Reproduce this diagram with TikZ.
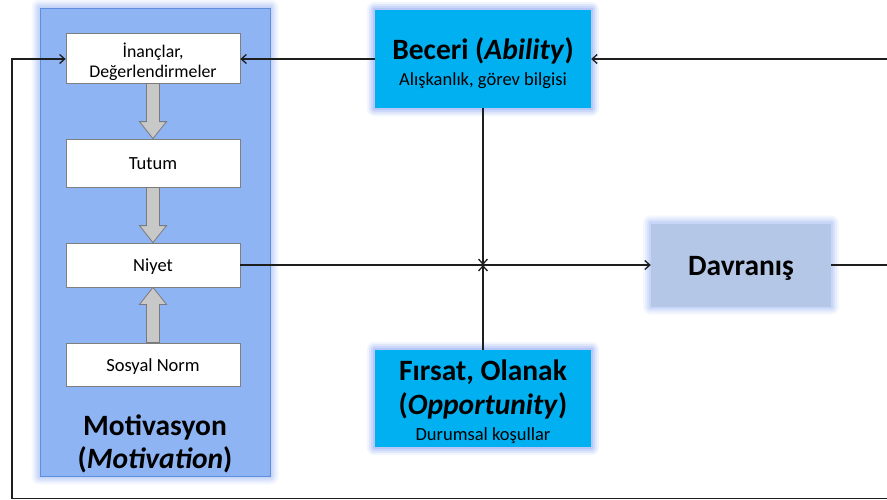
\documentclass[tikz,border=0pt]{standalone}
\usepackage{fontspec}
\setmainfont{Carlito}
\usetikzlibrary{arrows.meta,backgrounds,calc}

\definecolor{panelfill}{HTML}{8EB4F3}
\definecolor{paneledge}{HTML}{5E8FDB}
\definecolor{panelglow}{HTML}{A8C0F4}
\definecolor{skill}{HTML}{00B0F0}
\definecolor{skillglow}{HTML}{8FA9F2}
\definecolor{behav}{HTML}{B4C7E7}
\definecolor{boxedge}{HTML}{7F7F7F}
\definecolor{shaft}{HTML}{C8C8C8}
\definecolor{shaftedge}{HTML}{7A7A7A}
\definecolor{wire}{HTML}{1E1E1E}

\tikzset{
  panel/.style={fill=panelfill, draw=paneledge, line width=1pt,
    minimum width=230pt, minimum height=468pt, inner sep=0pt},
  stage/.style={draw=boxedge, line width=0.8pt, fill=white, minimum width=174pt,
    inner sep=0pt, font=\fontsize{18.5}{21}\selectfont},
  stageone/.style={stage, text height=13pt, text depth=0pt},
  factor/.style={fill=skill, minimum width=216pt, minimum height=98pt, inner sep=0pt},
  behave/.style={fill=behav, minimum width=180pt, minimum height=83pt, inner sep=0pt,
    font=\fontsize{29.5}{32}\selectfont\bfseries, text height=21pt, text depth=0pt},
  title/.style={font=\fontsize{29.5}{32}\selectfont\bfseries, anchor=base, inner sep=0pt},
  subtitle/.style={font=\fontsize{18.5}{21}\selectfont, anchor=base, inner sep=0pt},
  wire/.style={draw=wire, line width=1.1pt},
  tip/.style={wire, -{Straight Barb[length=5pt,width=9pt,line width=1.3pt]}},
  fat/.style={fill=shaft, draw=shaftedge, line width=0.8pt, line join=miter},
}

% soft halo behind a box: node name, colour
\newcommand\glowbox[2]{%
  \foreach \gr/\go in {8/0.12,6/0.18,4/0.25,2/0.35}{%
    \fill[#2, opacity=\go, rounded corners=\gr pt]
      ($(#1.south west)+(-\gr pt,-\gr pt)$) rectangle ($(#1.north east)+(\gr pt,\gr pt)$);
  }}

% thick grey block arrows between stacked boxes
\newcommand\fatdown[2]{%
  \draw[fat] let \p1=(#1.south), \p2=(#2.north) in
    (\x1-6.5pt,\y1) -- (\x1-6.5pt,\y2+17pt) -- (\x1-13.5pt,\y2+17pt) -- (\x1,\y2)
    -- (\x1+13.5pt,\y2+17pt) -- (\x1+6.5pt,\y2+17pt) -- (\x1+6.5pt,\y1) -- cycle;}
\newcommand\fatup[2]{%
  \draw[fat] let \p1=(#1.north), \p2=(#2.south) in
    (\x1-6.5pt,\y1) -- (\x1-6.5pt,\y2-17pt) -- (\x1-13.5pt,\y2-17pt) -- (\x1,\y2)
    -- (\x1+13.5pt,\y2-17pt) -- (\x1+6.5pt,\y2-17pt) -- (\x1+6.5pt,\y1) -- cycle;}

\begin{document}
\begin{tikzpicture}[x=1pt, y=-1pt]
\useasboundingbox (0,0) rectangle (887,499);

% motivation column
\node[panel] (panel) at (155,242) {};
\node[stage, minimum height=50pt] (beliefs) at (153,58) {};
\node[subtitle, font=\fontsize{17.8}{20}\selectfont] (beliefsA) at (153,57.5) {İnançlar,};
\node[subtitle, font=\fontsize{17.8}{20}\selectfont] (beliefsB) at (153,77) {Değerlendirmeler};
\node[stageone, minimum height=48pt] (attitude) at (153,163) {Tutum};
\node[stageone, minimum height=44pt] (intention) at (153,265) {Niyet};
\node[stageone, minimum height=43pt] (norm) at (153,364.5) {Sosyal Norm};
\node[title] (motivA) at (155,435) {Motivasyon};
\node[title] (motivB) at (155,468) {(\textit{Motivation})};

\fatdown{beliefs}{attitude}
\fatdown{attitude}{intention}
\fatup{norm}{intention}

% ability and opportunity
\node[factor] (ability) at (483,59) {};
\node[title] (abilityA) at (483,59) {Beceri (\textit{Ability})};
\node[subtitle] (abilityB) at (483,85) {Alışkanlık, görev bilgisi};

\node[factor, minimum height=97pt] (opp) at (483,398.5) {};
\node[title] (oppA) at (483,380) {Fırsat, Olanak};
\node[title] (oppB) at (483,414) {(\textit{Opportunity})};
\node[subtitle] (oppC) at (483,440) {Durumsal koşullar};

% behaviour
\node[behave] (behaviour) at (741,265) {Davranış};

% halos
\begin{scope}[on background layer]
  \glowbox{panel}{panelglow}
  \glowbox{ability}{skillglow}
  \glowbox{opp}{skillglow}
  \glowbox{behaviour}{panelglow}
\end{scope}

% connectors
\coordinate (meet) at (483,265);
\coordinate (edgeTop) at (900,59);
\coordinate (edgeMid) at (900,265);
\coordinate (edgeLow) at (900,498.5);
\coordinate (leftLow) at (12,498.5);
\coordinate (leftTop) at (12,59);

\draw[tip] (ability.west) -- (beliefs.east |- ability.west);
\draw[tip] (edgeTop) -- (ability.east);
\draw[tip] (intention.east) -- (behaviour.west);
\draw[tip] (ability.south) -- (meet);
\draw[tip] (opp.north) -- (meet);
\draw[tip] (behaviour.east) -- (edgeMid) -- (edgeLow) -- (leftLow) -- (leftTop) -- (beliefs.west |- leftTop);
\draw[wire] (edgeMid) -- (edgeTop);
\end{tikzpicture}
\end{document}
